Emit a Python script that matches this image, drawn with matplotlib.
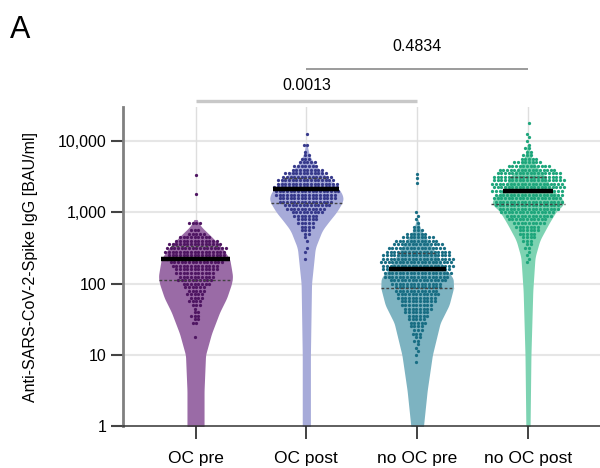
import numpy as np
import matplotlib.pyplot as plt
from matplotlib.transforms import blended_transform_factory

plt.rcParams['font.family'] = ['Liberation Sans', 'DejaVu Sans']

groups = ['OC pre', 'OC post', 'no OC pre', 'no OC post']
violin_col = ['#9a6ba6', '#a7abd9', '#7db3c1', '#7dd3b2']
dot_col = ['#4f1662', '#373a8c', '#196e84', '#1ea67c']

medians = [220, 2100, 160, 2000]
q1 = [112, 1350, 88, 1320]
q3 = [340, 3000, 265, 3100]

# violin outline: log10 level and relative half width
pre_oc_lv = [-0.3, 0.5, 1.0, 1.3, 1.6, 1.8, 2.0, 2.1, 2.2, 2.35, 2.5, 2.65, 2.8, 2.9]
pre_oc_w = [0.23, 0.23, 0.27, 0.43, 0.65, 0.84, 0.97, 1.0, 0.97, 0.92, 0.72, 0.45, 0.15, 0.03]
post_oc_lv = [-0.3, 1.0, 2.0, 2.5, 2.75, 2.9, 3.0, 3.15, 3.22, 3.33, 3.5, 3.65, 3.8, 3.95]
post_oc_w = [0.11, 0.11, 0.14, 0.24, 0.43, 0.65, 0.81, 0.98, 1.0, 0.88, 0.55, 0.25, 0.08, 0.02]
pre_nooc_lv = [-0.3, 0.0, 0.5, 1.0, 1.45, 1.7, 1.94, 2.08, 2.22, 2.42, 2.6, 2.75, 2.9]
pre_nooc_w = [0.16, 0.17, 0.27, 0.41, 0.62, 0.86, 0.98, 0.97, 0.74, 0.52, 0.3, 0.1, 0.02]
post_nooc_lv = [-0.3, 1.0, 1.9, 2.37, 2.61, 2.85, 3.03, 3.12, 3.2, 3.31, 3.49, 3.65, 3.8, 3.95]
post_nooc_w = [0.05, 0.08, 0.13, 0.19, 0.32, 0.57, 0.78, 1.0, 0.92, 0.66, 0.49, 0.22, 0.07, 0.02]

# dots: number of samples per 0.05-decade row, starting at log10 level
row_step = 0.05
pre_oc_start = 1.25
pre_oc_counts = [1, 0, 0, 0, 2, 2, 3, 2, 1, 3, 4, 4, 5, 5, 6, 8, 10, 10, 11, 12, 13, 15, 16, 16,
                 17, 17, 15, 12, 9, 5, 3, 0, 4]
pre_oc_out = [1800, 3300]
post_oc_start = 2.35
post_oc_counts = [1, 0, 1, 1, 0, 1, 1, 2, 3, 4, 5, 6, 7, 9, 11, 13, 15, 16, 17, 18, 18, 17, 16, 14,
                  12, 9, 7, 5, 3, 2, 1, 0, 2, 0, 0, 1]
post_oc_out = []
pre_nooc_start = 0.90
pre_nooc_counts = [1, 0, 1, 1, 1, 1, 2, 2, 3, 3, 4, 5, 5, 6, 7, 8, 9, 10, 11, 12, 12, 13, 14, 16,
                   18, 19, 19, 20, 20, 20, 19, 18, 16, 14, 12, 9, 6, 3, 2, 1, 1, 1, 1]
pre_nooc_out = [2600, 3000, 3500]
post_nooc_start = 2.30
post_nooc_counts = [1, 1, 1, 1, 2, 2, 3, 4, 5, 6, 7, 9, 11, 13, 15, 17, 18, 19, 19, 19, 20, 20, 20, 20,
                    19, 18, 16, 12, 8, 5, 3, 2, 2, 1, 1, 1, 1, 0, 0, 1]
post_nooc_out = []

p_labels = ['0.0013', '0.4834']
p_pairs = [(0, 2), (1, 3)]

profiles = [(pre_oc_lv, pre_oc_w), (post_oc_lv, post_oc_w),
            (pre_nooc_lv, pre_nooc_w), (post_nooc_lv, post_nooc_w)]
dots = [(pre_oc_start, pre_oc_counts, pre_oc_out), (post_oc_start, post_oc_counts, post_oc_out),
        (pre_nooc_start, pre_nooc_counts, pre_nooc_out), (post_nooc_start, post_nooc_counts, post_nooc_out)]

maxw = 0.335
sp = 0.033

fig = plt.figure(figsize=(6, 4.68), dpi=100)
ax = fig.add_axes([0.2058, 0.0891, 0.7942, 0.6823])
ax.set_yscale('log')
ax.set_ylim(1, 30000)
ax.set_xlim(-0.65, 3.65)

for yv in [10, 100, 1000, 10000]:
    ax.axhline(yv, color='#e6e6e6', lw=1.5, zorder=0)
for i in range(len(groups)):
    ax.axvline(i, color='#dedede', lw=1, zorder=0)

for i, (lv, w) in enumerate(profiles):
    ly = np.linspace(lv[0], lv[-1], 400)
    hw = np.interp(ly, lv, w) * maxw
    k = np.ones(11) / 11
    hw = np.convolve(np.pad(hw, 5, mode='edge'), k, mode='valid')
    ax.fill_betweenx(10 ** ly, i - hw, i + hw, color=violin_col[i], lw=0, zorder=1)

    start, counts, out = dots[i]
    xs, ys = [], []
    for r, n in enumerate(counts):
        shift = (r % 2 - 0.5) * sp * 0.5
        for j in range(n):
            xs.append(i + (j - (n - 1) / 2) * sp + shift)
            ys.append(10 ** (start + r * row_step))
    for v in out:
        xs.append(i)
        ys.append(v)
    ax.scatter(xs, ys, s=5.5, color=dot_col[i], lw=0, zorder=2)

    def half(v):
        return np.interp(np.log10(v), lv, w) * maxw

    m = medians[i]
    ax.plot([i - half(m), i + half(m)], [m, m], color='black', lw=3.2, solid_capstyle='butt', zorder=4)
    for q in (q1[i], q3[i]):
        ax.plot([i - half(q), i + half(q)], [q, q], color='#444444', lw=1,
                ls=(0, (2, 1.5)), zorder=3)

ax.set_xticks(range(len(groups)))
ax.set_xticklabels(groups, fontsize=12.5)
yt = [1, 10, 100, 1000, 10000]
ax.set_yticks(yt)
ax.set_yticklabels(['{:,}'.format(v) for v in yt], fontsize=11.5)
ax.minorticks_off()
ax.tick_params(axis='y', length=9, width=1.5, color='#444444', pad=3)
ax.tick_params(axis='x', length=9.5, width=1.2, color='#222222', pad=8)
ax.set_ylabel('Anti-SARS-CoV-2-Spike IgG [BAU/ml]', fontsize=11.5)
ax.yaxis.set_label_coords(-0.179, 0.5)

for s in ['top', 'right']:
    ax.spines[s].set_visible(False)
ax.spines['left'].set_color('#808080')
ax.spines['left'].set_linewidth(2)
ax.spines['bottom'].set_color('#333333')
ax.spines['bottom'].set_linewidth(1.1)

tr = blended_transform_factory(ax.transData, ax.transAxes)
bar_y = [1.019, 1.119]
txt_y = [1.066, 1.188]
bar_col = ['#c8c8c8', '#8a8a8a']
bar_lw = [2.4, 1.2]
for k, (a, b) in enumerate(p_pairs):
    ax.plot([a, b], [bar_y[k], bar_y[k]], color=bar_col[k], lw=bar_lw[k], transform=tr,
            clip_on=False, solid_capstyle='butt')
    ax.text((a + b) / 2, txt_y[k], p_labels[k], transform=tr, ha='center', va='center', fontsize=11.5)

fig.text(0.017, 0.935, 'A', fontsize=22, ha='left', va='center')

fig.savefig('out.png', dpi=100)
